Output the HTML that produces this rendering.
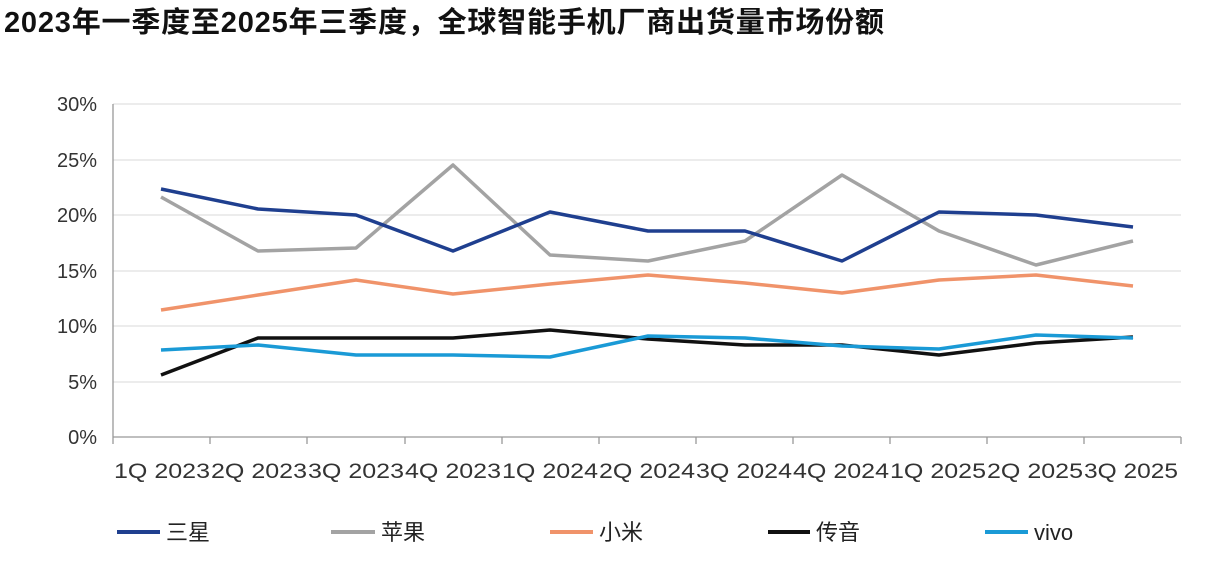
<!DOCTYPE html>
<html><head><meta charset="utf-8"><style>
body{margin:0;background:#fff;}
svg{display:block;font-family:"Liberation Sans","Noto Sans CJK SC",sans-serif;}
</style></head><body>
<svg width="1214" height="574" viewBox="0 0 1214 574">
<text x="4" y="32" font-size="29" font-weight="bold" fill="#111" textLength="880">2023年一季度至2025年三季度，全球智能手机厂商出货量市场份额</text>
<g stroke="#d9d9d9" stroke-width="1">
<line x1="113" x2="1181" y1="104" y2="104"/><line x1="113" x2="1181" y1="160" y2="160"/>
<line x1="113" x2="1181" y1="215" y2="215"/><line x1="113" x2="1181" y1="271" y2="271"/>
<line x1="113" x2="1181" y1="326" y2="326"/><line x1="113" x2="1181" y1="382" y2="382"/>
</g>
<g stroke="#999" stroke-width="1.3">
<line x1="113" x2="113" y1="104" y2="437"/><line x1="113" x2="1181" y1="437" y2="437"/>
<line x1="113" x2="113" y1="437" y2="444"/><line x1="210" x2="210" y1="437" y2="444"/><line x1="307" x2="307" y1="437" y2="444"/><line x1="405" x2="405" y1="437" y2="444"/><line x1="502" x2="502" y1="437" y2="444"/><line x1="599" x2="599" y1="437" y2="444"/><line x1="696" x2="696" y1="437" y2="444"/><line x1="793" x2="793" y1="437" y2="444"/><line x1="890" x2="890" y1="437" y2="444"/><line x1="987" x2="987" y1="437" y2="444"/><line x1="1084" x2="1084" y1="437" y2="444"/><line x1="1181" x2="1181" y1="437" y2="444"/>
</g>
<g font-size="20" fill="#333" text-anchor="end">
<text x="97" y="111">30%</text><text x="97" y="167">25%</text><text x="97" y="222">20%</text><text x="97" y="278">15%</text><text x="97" y="333">10%</text><text x="97" y="389">5%</text><text x="97" y="444">0%</text>
</g>
<g font-size="21" fill="#333">
<text x="114" y="478" textLength="96" lengthAdjust="spacingAndGlyphs">1Q 2023</text><text x="211" y="478" textLength="96" lengthAdjust="spacingAndGlyphs">2Q 2023</text><text x="308" y="478" textLength="96" lengthAdjust="spacingAndGlyphs">3Q 2023</text><text x="405" y="478" textLength="96" lengthAdjust="spacingAndGlyphs">4Q 2023</text><text x="502" y="478" textLength="96" lengthAdjust="spacingAndGlyphs">1Q 2024</text><text x="599" y="478" textLength="96" lengthAdjust="spacingAndGlyphs">2Q 2024</text><text x="696" y="478" textLength="96" lengthAdjust="spacingAndGlyphs">3Q 2024</text><text x="793" y="478" textLength="96" lengthAdjust="spacingAndGlyphs">4Q 2024</text><text x="890" y="478" textLength="96" lengthAdjust="spacingAndGlyphs">1Q 2025</text><text x="987" y="478" textLength="96" lengthAdjust="spacingAndGlyphs">2Q 2025</text><text x="1084" y="478" textLength="94" lengthAdjust="spacingAndGlyphs">3Q 2025</text>
</g>
<g fill="none" stroke-width="3.5" stroke-linejoin="round">
<polyline stroke="#a3a3a3" points="161,197 258,251 356,248 453,165 550,255 648,261 745,241 842,175 939,231 1036,265 1133,241"/>
<polyline stroke="#f0936a" points="161,310 258,295 356,280 453,294 550,284 648,275 745,283 842,293 939,280 1036,275 1133,286"/>
<polyline stroke="#111" points="161,375 258,338 356,338 453,338 550,330 648,339 745,345 842,345 939,355 1036,343 1133,337"/>
<polyline stroke="#1a9ad6" points="161,350 258,345 356,355 453,355 550,357 648,336 745,338 842,346 939,349 1036,335 1133,338"/>
<polyline stroke="#1f3f8f" points="161,189 258,209 356,215 453,251 550,212 648,231 745,231 842,261 939,212 1036,215 1133,227"/>
</g>
<g stroke-width="4">
<line x1="117" x2="160" y1="532" y2="532" stroke="#1f3f8f"/>
<line x1="331" x2="375" y1="532" y2="532" stroke="#a3a3a3"/>
<line x1="550" x2="593" y1="532" y2="532" stroke="#f0936a"/>
<line x1="768" x2="810" y1="532" y2="532" stroke="#111"/>
<line x1="985" x2="1028" y1="532" y2="532" stroke="#1a9ad6"/>
</g>
<g font-size="22" fill="#222">
<text x="166" y="540">三星</text><text x="381" y="540">苹果</text><text x="599" y="540">小米</text><text x="816" y="540">传音</text><text x="1034" y="540">vivo</text>
</g>
</svg>
</body></html>
